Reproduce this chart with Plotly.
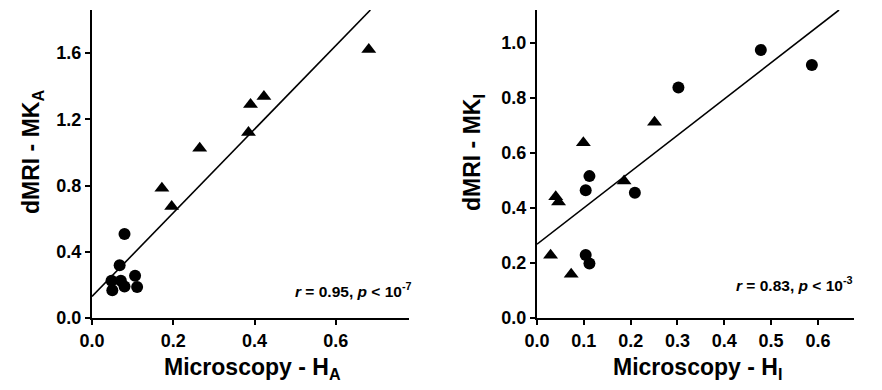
import plotly.graph_objects as go

# Left panel (A)
a_tri_x = [0.681, 0.423, 0.390, 0.385, 0.265, 0.172, 0.196]
a_tri_y = [1.622, 1.337, 1.290, 1.120, 1.025, 0.784, 0.673]
a_cir_x = [0.080, 0.068, 0.048, 0.071, 0.050, 0.080, 0.106, 0.111]
a_cir_y = [0.507, 0.318, 0.225, 0.225, 0.167, 0.190, 0.255, 0.187]
a_line_x = [0.0, 0.685]
a_line_y = [0.13, 1.86]
a_ticks_x = [0.0, 0.2, 0.4, 0.6]
a_ticks_y = [0.0, 0.4, 0.8, 1.2, 1.6]

# Right panel (I)
i_cir_x = [0.478, 0.587, 0.302, 0.112, 0.104, 0.209, 0.104, 0.112]
i_cir_y = [0.973, 0.918, 0.837, 0.515, 0.464, 0.455, 0.229, 0.198]
i_tri_x = [0.251, 0.099, 0.186, 0.040, 0.046, 0.029, 0.073]
i_tri_y = [0.711, 0.636, 0.497, 0.440, 0.421, 0.228, 0.159]
i_line_x = [0.0, 0.645]
i_line_y = [0.268, 1.118]
i_ticks_x = [0.0, 0.1, 0.2, 0.3, 0.4, 0.5, 0.6]
i_ticks_y = [0.0, 0.2, 0.4, 0.6, 0.8, 1.0]

FONT = "Arial"
W, H, OFF = 874, 382, 8  # page body has an 8px margin


def px(p):
    return (p - OFF) / W


def py(q):
    return 1 - (q - OFF) / H


fig = go.Figure()


def add_panel(xa, ya, tri_x, tri_y, cir_x, cir_y, lx, ly):
    fig.add_trace(go.Scatter(x=lx, y=ly, mode="lines", line=dict(color="black", width=1.6),
                             xaxis=xa, yaxis=ya, showlegend=False, cliponaxis=True))
    fig.add_trace(go.Scatter(x=tri_x, y=tri_y, mode="markers",
                             marker=dict(symbol="triangle-up", size=13, color="black"),
                             xaxis=xa, yaxis=ya, showlegend=False, cliponaxis=False))
    fig.add_trace(go.Scatter(x=cir_x, y=cir_y, mode="markers",
                             marker=dict(symbol="circle", size=12, color="black"),
                             xaxis=xa, yaxis=ya, showlegend=False, cliponaxis=False))


add_panel("x", "y", a_tri_x, a_tri_y, a_cir_x, a_cir_y, a_line_x, a_line_y)
add_panel("x2", "y2", i_tri_x, i_tri_y, i_cir_x, i_cir_y, i_line_x, i_line_y)

ydom = [py(318), py(10)]

axis_common = dict(showline=True, linecolor="black", linewidth=2, ticks="outside",
                   ticklen=5, tickwidth=1.5, tickcolor="black", showgrid=False,
                   zeroline=False, mirror=False, automargin=False,
                   tickfont=dict(family=FONT, size=18, color="black", weight="bold"))


def tt(vals):
    return [f"<b>{v:.1f}</b>" for v in vals]


fig.update_layout(
    width=W, height=H,
    margin=dict(l=0, r=0, t=0, b=0, autoexpand=False),
    paper_bgcolor="white", plot_bgcolor="white",
    font=dict(family=FONT, color="black", size=18),
    xaxis=dict(domain=[px(92), px(409)], range=[0, 0.78], tickvals=a_ticks_x,
               ticktext=tt(a_ticks_x), anchor="y", **axis_common),
    yaxis=dict(domain=ydom, range=[0, 1.86], tickvals=a_ticks_y,
               ticktext=tt(a_ticks_y), anchor="x", **axis_common),
    xaxis2=dict(domain=[px(537), px(854)], range=[0, 0.677], tickvals=i_ticks_x,
                ticktext=tt(i_ticks_x), anchor="y2", **axis_common),
    yaxis2=dict(domain=ydom, range=[0, 1.118], tickvals=i_ticks_y,
                ticktext=tt(i_ticks_y), anchor="x2", **axis_common),
)

title_font = dict(family=FONT, size=23, color="black", weight="bold")
ann = [
    dict(text="<b>Microscopy - H<sub>A</sub></b>", x=px(252), y=py(368)),
    dict(text="<b>Microscopy - H<sub>I</sub></b>", x=px(697), y=py(368)),
    dict(text="<b>dMRI - MK<sub>A</sub></b>", x=px(33), y=py(152), textangle=-90),
    dict(text="<b>dMRI - MK<sub>I</sub></b>", x=px(474), y=py(152), textangle=-90),
]
for a in ann:
    fig.add_annotation(xref="paper", yref="paper", showarrow=False, font=title_font,
                       xanchor="center", yanchor="middle", **a)

stat_font = dict(family=FONT, size=15.5, color="black", weight="bold")
fig.add_annotation(xref="paper", yref="paper", x=px(414), y=py(290),
                   xanchor="right", yanchor="middle", showarrow=False, font=stat_font,
                   text="<b><i>r</i> = 0.95, <i>p</i> < 10<sup>-7</sup></b>")
fig.add_annotation(xref="paper", yref="paper", x=px(855), y=py(284),
                   xanchor="right", yanchor="middle", showarrow=False, font=stat_font,
                   text="<b><i>r</i> = 0.83, <i>p</i> < 10<sup>-3</sup></b>")

fig.write_html("out.html")
